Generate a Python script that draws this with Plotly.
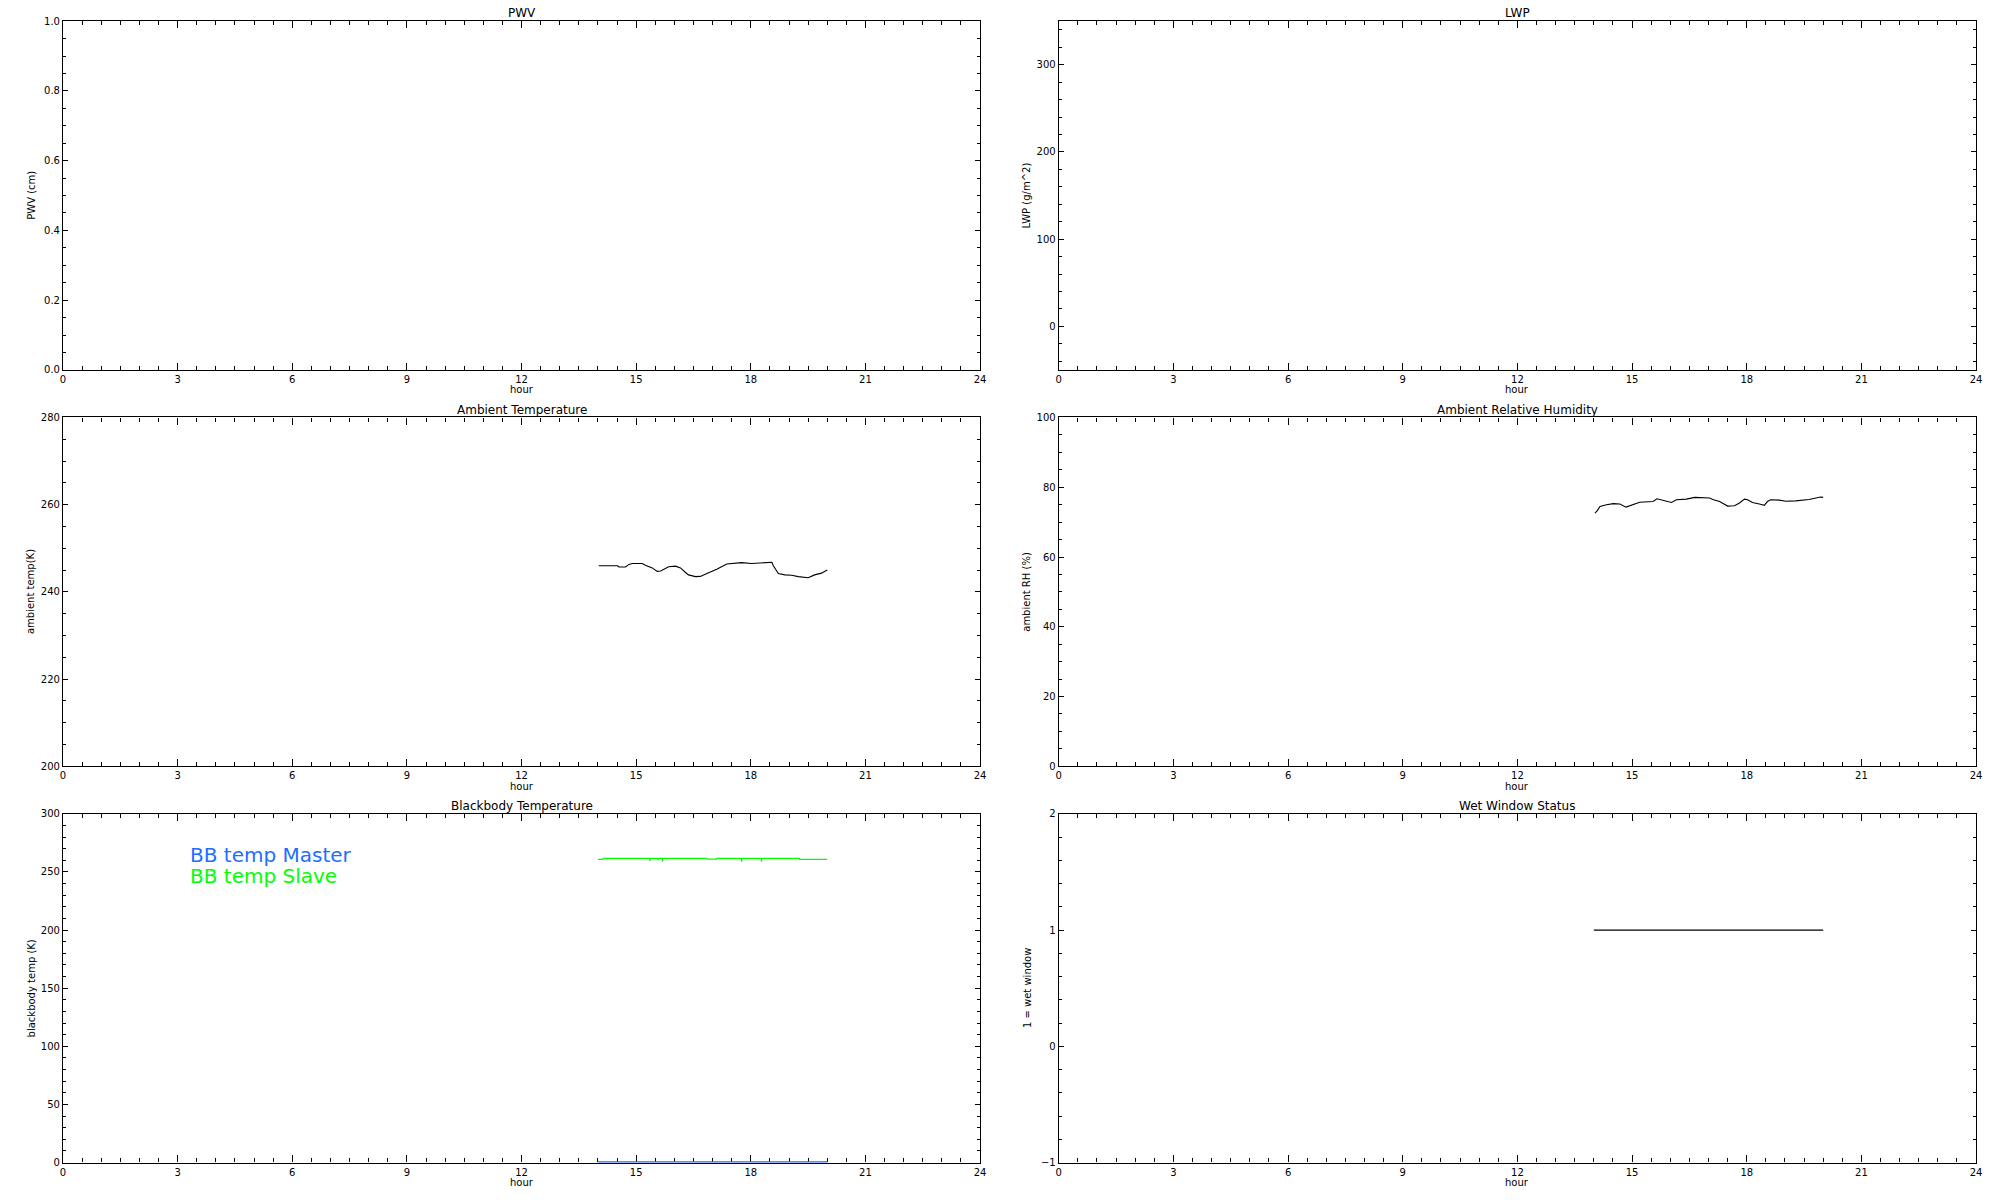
import plotly.graph_objects as go

# ---------------- data ----------------
temp_hours = [14.02, 14.51, 14.55, 14.72, 14.81, 14.90, 15.16, 15.24, 15.42, 15.55,
              15.64, 15.77, 15.85, 16.03, 16.16, 16.29, 16.37, 16.55, 16.68, 16.85,
              17.11, 17.37, 17.76, 18.02, 18.29, 18.55, 18.59, 18.72, 18.89, 19.07,
              19.24, 19.50, 19.67, 19.85, 20.00]
temp_values = [246.0, 246.0, 245.7, 245.7, 246.3, 246.5, 246.5, 246.1, 245.5, 244.7,
               244.8, 245.4, 245.75, 245.9, 245.5, 244.45, 243.9, 243.5, 243.55, 244.2,
               245.2, 246.4, 246.7, 246.5, 246.65, 246.8, 246.0, 244.2, 243.9, 243.8,
               243.5, 243.25, 243.9, 244.3, 245.0]

rh_hours = [14.03, 14.09, 14.16, 14.33, 14.51, 14.68, 14.84, 14.94, 15.07, 15.20,
            15.55, 15.65, 15.83, 16.03, 16.16, 16.42, 16.64, 17.03, 17.11, 17.29,
            17.50, 17.68, 17.81, 17.94, 18.02, 18.15, 18.33, 18.46, 18.54, 18.63,
            18.85, 19.02, 19.28, 19.63, 19.93, 20.00]
rh_values = [72.6, 73.3, 74.5, 75.0, 75.3, 75.2, 74.3, 74.7, 75.2, 75.7,
             75.9, 76.7, 76.2, 75.65, 76.4, 76.6, 77.1, 76.9, 76.5, 75.9,
             74.6, 74.7, 75.5, 76.6, 76.4, 75.6, 75.2, 74.8, 75.9, 76.4,
             76.3, 76.0, 76.1, 76.5, 77.2, 77.1]

bb_slave_hours = [14.00, 14.13, 14.14, 15.35, 15.36, 15.37, 15.56, 15.57, 15.58,
                  15.68, 15.69, 15.70, 16.85, 16.86, 17.10, 17.11, 17.75, 17.76,
                  17.77, 18.27, 18.28, 18.29, 19.27, 19.28, 20.00]
bb_slave_values = [260.8, 260.8, 261.7, 261.7, 259.6, 261.7, 261.7, 260.2, 261.7,
                   261.7, 258.8, 261.7, 261.7, 261.0, 261.0, 261.7, 261.7, 258.8,
                   261.7, 261.7, 258.8, 261.7, 261.7, 260.8, 260.8]

bb_master_hours = [14.0, 20.0]
bb_master_values = [0.0, 0.0]

wet_hours = [14.0, 20.0]
wet_values = [1.0, 1.0]

x_ticks_dtick = 3
hour_range = [0, 24]

# ---------------- layout geometry ----------------
W, H = 2000, 1200
FONT = "DejaVu Sans"
col_px = [(60.3, 981.5), (1060.5, 1982.0)]
row_px = [(15.3, 367.3), (415.3, 767.3), (815.3, 1167.3)]


def xdom(c):
    a, b = col_px[c]
    return [a / W, b / W]


def ydom(r):
    t, b = row_px[r]
    return [1 - b / H, 1 - t / H]


panels = [
    dict(title="PWV", ytitle="PWV (cm)", yrange=[0, 1], dtick=0.2, minor=0.05, fmt=".1f", row=0, col=0),
    dict(title="LWP", ytitle="LWP (g/m^2)", yrange=[-50, 350], dtick=100, minor=20, fmt="d", row=0, col=1),
    dict(title="Ambient Temperature", ytitle="ambient temp(K)", yrange=[200, 280], dtick=20, minor=5, fmt="d", row=1, col=0),
    dict(title="Ambient Relative Humidity", ytitle="ambient RH (%)", yrange=[0, 100], dtick=20, minor=5, fmt="d", row=1, col=1),
    dict(title="Blackbody Temperature", ytitle="blackbody temp (K)", yrange=[0, 300], dtick=50, minor=10, fmt="d", row=2, col=0),
    dict(title="Wet Window Status", ytitle="1 = wet window", yrange=[-1, 2], dtick=1, minor=0.2, fmt="d", row=2, col=1),
]

fig = go.Figure()
annotations = []
layout = dict(
    width=W, height=H,
    margin=dict(l=0, r=0, t=0, b=0),
    paper_bgcolor="white", plot_bgcolor="white",
    showlegend=False,
    font=dict(family=FONT, size=10, color="black"),
)

for i, p in enumerate(panels):
    n = i + 1
    xa = "xaxis" if n == 1 else f"xaxis{n}"
    ya = "yaxis" if n == 1 else f"yaxis{n}"
    xref = "x" if n == 1 else f"x{n}"
    yref = "y" if n == 1 else f"y{n}"
    layout[xa] = dict(
        domain=xdom(p["col"]), anchor=yref, range=hour_range,
        tick0=0, dtick=x_ticks_dtick, ticks="inside", ticklen=7, tickwidth=1.2,
        tickcolor="black", showline=True, linecolor="black", linewidth=1.2,
        mirror="ticks", showgrid=False, zeroline=False,
        tickfont=dict(family=FONT, size=10, color="black"),
        minor=dict(dtick=0.5, tick0=0, ticks="inside", ticklen=4, tickwidth=1.2,
                   tickcolor="black", showgrid=False),
        fixedrange=True,
    )
    layout[ya] = dict(
        domain=ydom(p["row"]), anchor=xref, range=p["yrange"],
        tick0=0, dtick=p["dtick"], ticks="inside", ticklen=5, tickwidth=1.2,
        tickcolor="black", showline=True, linecolor="black", linewidth=1.2,
        mirror="ticks", showgrid=False, zeroline=False, tickformat=p["fmt"],
        tickfont=dict(family=FONT, size=10, color="black"),
        minor=dict(dtick=p["minor"], tick0=0, ticks="inside", ticklen=3, tickwidth=1.2,
                   tickcolor="black", showgrid=False),
        fixedrange=True,
    )
    if p["title"] == "Blackbody Temperature":
        layout[xa]["layer"] = "below traces"
        layout[ya]["layer"] = "below traces"

    # empty trace so that every subplot (including data-less ones) is drawn
    fig.add_trace(go.Scatter(x=[None], y=[None], mode="lines", xaxis=xref, yaxis=yref,
                             hoverinfo="skip"))

    top, bot = row_px[p["row"]]
    left, right = col_px[p["col"]]
    # panel title
    annotations.append(dict(
        text=p["title"], xref="paper", yref="paper",
        x=(left + right) / 2 / W, y=1 - (top - 8) / H, xanchor="center", yanchor="middle",
        showarrow=False, font=dict(family=FONT, size=12, color="black")))
    # x axis title
    annotations.append(dict(
        text="hour", xref="paper", yref="paper",
        x=(left + right) / 2 / W, y=1 - (bot + 20) / H, xanchor="center", yanchor="middle",
        showarrow=False, font=dict(family=FONT, size=10, color="black")))
    # y axis title
    annotations.append(dict(
        text=p["ytitle"], xref="paper", yref="paper",
        x=(left - 32) / W, y=1 - (top + bot) / 2 / H, xanchor="center", yanchor="middle",
        textangle=-90, showarrow=False,
        font=dict(family=FONT, size=10, color="black")))

# traces
fig.add_trace(go.Scatter(x=temp_hours, y=temp_values, mode="lines",
                         line=dict(color="black", width=1.1), xaxis="x3", yaxis="y3"))
fig.add_trace(go.Scatter(x=rh_hours, y=rh_values, mode="lines",
                         line=dict(color="black", width=1.1), xaxis="x4", yaxis="y4"))
fig.add_trace(go.Scatter(x=bb_master_hours, y=bb_master_values, mode="lines",
                         line=dict(color="#1E6EFF", width=2.6), xaxis="x5", yaxis="y5"))
fig.add_trace(go.Scatter(x=bb_slave_hours, y=bb_slave_values, mode="lines",
                         line=dict(color="#00FF00", width=1.2), xaxis="x5", yaxis="y5"))
fig.add_trace(go.Scatter(x=wet_hours, y=wet_values, mode="lines",
                         line=dict(color="black", width=1.2), xaxis="x6", yaxis="y6"))

# in-plot legend text
annotations.append(dict(text="BB temp Master", xref="x5", yref="y5", x=3.28, y=264.5,
                        xanchor="left", yanchor="middle", showarrow=False,
                        font=dict(family=FONT, size=20, color="#1E6EFF")))
annotations.append(dict(text="BB temp Slave", xref="x5", yref="y5", x=3.28, y=246.9,
                        xanchor="left", yanchor="middle", showarrow=False,
                        font=dict(family=FONT, size=20, color="#00FF00")))

layout["annotations"] = annotations
fig.update_layout(**layout)

fig.write_html("out.html", config={"displayModeBar": False},
               post_script="document.body.style.margin='0';document.body.style.overflow='hidden';")
